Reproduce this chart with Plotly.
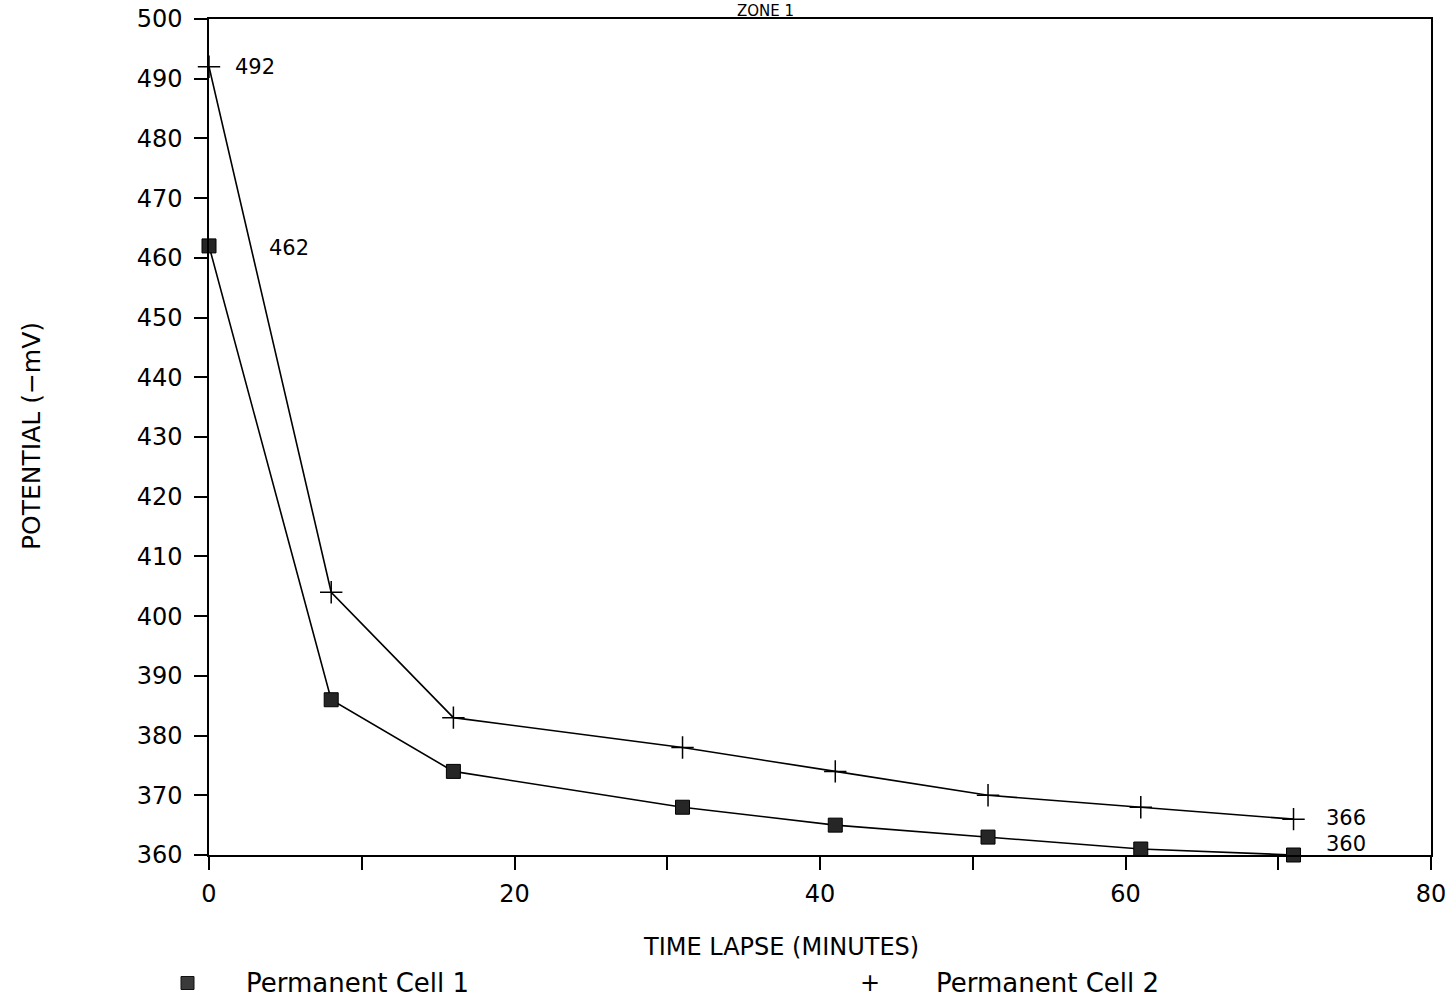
import plotly.graph_objects as go

# Elapsed time after switch-off (minutes)
time_min = [0, 8, 16, 31, 41, 51, 61, 71]
# Potential readings (-mV)
cell1_mv = [462, 386, 374, 368, 365, 363, 361, 360]
cell2_mv = [492, 404, 383, 378, 374, 370, 368, 366]
series_names = ["Permanent Cell 1", "Permanent Cell 2"]

x_tickvals = [0, 10, 20, 30, 40, 50, 60, 70, 80]
x_ticktext = ["0", "", "20", "", "40", "", "60", "", "80"]
y_tickvals = [360, 370, 380, 390, 400, 410, 420, 430, 440, 450, 460, 470, 480, 490, 500]

FONT = "DejaVu Sans"
W, H = 1454, 1000
ML, MR, MT, MB = 209, 23, 19, 145

fig = go.Figure()
fig.add_trace(go.Scatter(
    x=time_min, y=cell1_mv, mode="lines+markers", name=series_names[0],
    line=dict(color="black", width=1.6), cliponaxis=False,
    marker=dict(symbol="square", size=14, color="#262626",
                line=dict(color="black", width=1)),
))
fig.add_trace(go.Scatter(
    x=time_min, y=cell2_mv, mode="lines+markers", name=series_names[1],
    line=dict(color="black", width=1.6), cliponaxis=False,
    marker=dict(symbol="cross-thin", size=16,
                line=dict(color="black", width=1.5)),
))

# value labels at the first and last readings
annotations = [
    dict(x=time_min[0], y=cell2_mv[0], text=str(cell2_mv[0]), xshift=24, yshift=0),
    dict(x=time_min[0], y=cell1_mv[0], text=str(cell1_mv[0]), xshift=58, yshift=-2),
    dict(x=time_min[-1], y=cell2_mv[-1], text=str(cell2_mv[-1]), xshift=30, yshift=1),
    dict(x=time_min[-1], y=cell1_mv[-1], text=str(cell1_mv[-1]), xshift=30, yshift=11),
]
for a in annotations:
    a.update(showarrow=False, xref="x", yref="y", xanchor="left", yanchor="middle",
             font=dict(family=FONT, size=21, color="black"))

# chart title, squeezed into the top strip
annotations.append(dict(
    text="ZONE 1", xref="paper", yref="paper", x=0.455, y=1.0, yshift=MT,
    xanchor="center", yanchor="top", showarrow=False,
    font=dict(family=FONT, size=15, color="black")))

# axis titles
annotations.append(dict(
    text="POTENTIAL (\u2212mV)", xref="paper", yref="paper",
    x=0, xshift=-(ML - 31), y=0.5, yshift=1, textangle=-90,
    xanchor="center", yanchor="middle", showarrow=False,
    font=dict(family=FONT, size=25, color="black")))
annotations.append(dict(
    text="TIME LAPSE (MINUTES)", xref="paper", yref="paper",
    x=0.468, y=0, yshift=-(947 - (H - MB)),
    xanchor="center", yanchor="middle", showarrow=False,
    font=dict(family=FONT, size=24, color="black")))

# legend row below the axis title
legend_y = -(983 - (H - MB)) / (H - MT - MB)
def px_to_paper_x(px):
    return (px - ML) / (W - ML - MR)

annotations.append(dict(
    text=series_names[0], xref="paper", yref="paper", x=px_to_paper_x(244),
    y=legend_y, xanchor="left", yanchor="middle", showarrow=False,
    font=dict(family=FONT, size=26, color="black")))
annotations.append(dict(
    text=series_names[1], xref="paper", yref="paper", x=px_to_paper_x(934),
    y=legend_y, xanchor="left", yanchor="middle", showarrow=False,
    font=dict(family=FONT, size=26, color="black")))
annotations.append(dict(
    text="+", xref="paper", yref="paper", x=px_to_paper_x(870),
    y=legend_y, xanchor="center", yanchor="middle", showarrow=False,
    font=dict(family=FONT, size=24, color="black")))

shapes = [dict(
    type="rect", xref="paper", yref="paper",
    x0=px_to_paper_x(181), x1=px_to_paper_x(194),
    y0=legend_y - 6.5 / (H - MT - MB), y1=legend_y + 6.5 / (H - MT - MB),
    fillcolor="#3a3a3a", line=dict(color="#111", width=1))]

fig.update_layout(
    width=W, height=H,
    margin=dict(l=ML, r=MR, t=MT, b=MB, autoexpand=False),
    paper_bgcolor="white", plot_bgcolor="white",
    font=dict(family=FONT, size=22, color="black"),
    annotations=annotations, shapes=shapes,
    showlegend=False,
)
fig.update_xaxes(
    range=[0, 80], tickvals=x_tickvals, ticktext=x_ticktext,
    ticks="outside", ticklen=13, tickwidth=1.5, tickcolor="black",
    showline=True, linecolor="black", linewidth=1.5, mirror=True,
    showgrid=False, zeroline=False, automargin=False,
    tickfont=dict(family=FONT, size=24), ticklabelstandoff=3,
)
fig.update_yaxes(
    range=[360, 500], tickvals=y_tickvals,
    ticks="outside", ticklen=13, tickwidth=1.5, tickcolor="black",
    showline=True, linecolor="black", linewidth=1.5, mirror=True,
    showgrid=False, zeroline=False, automargin=False,
    tickfont=dict(family=FONT, size=24), ticklabelstandoff=7,
)

fig.write_html("out.html")
